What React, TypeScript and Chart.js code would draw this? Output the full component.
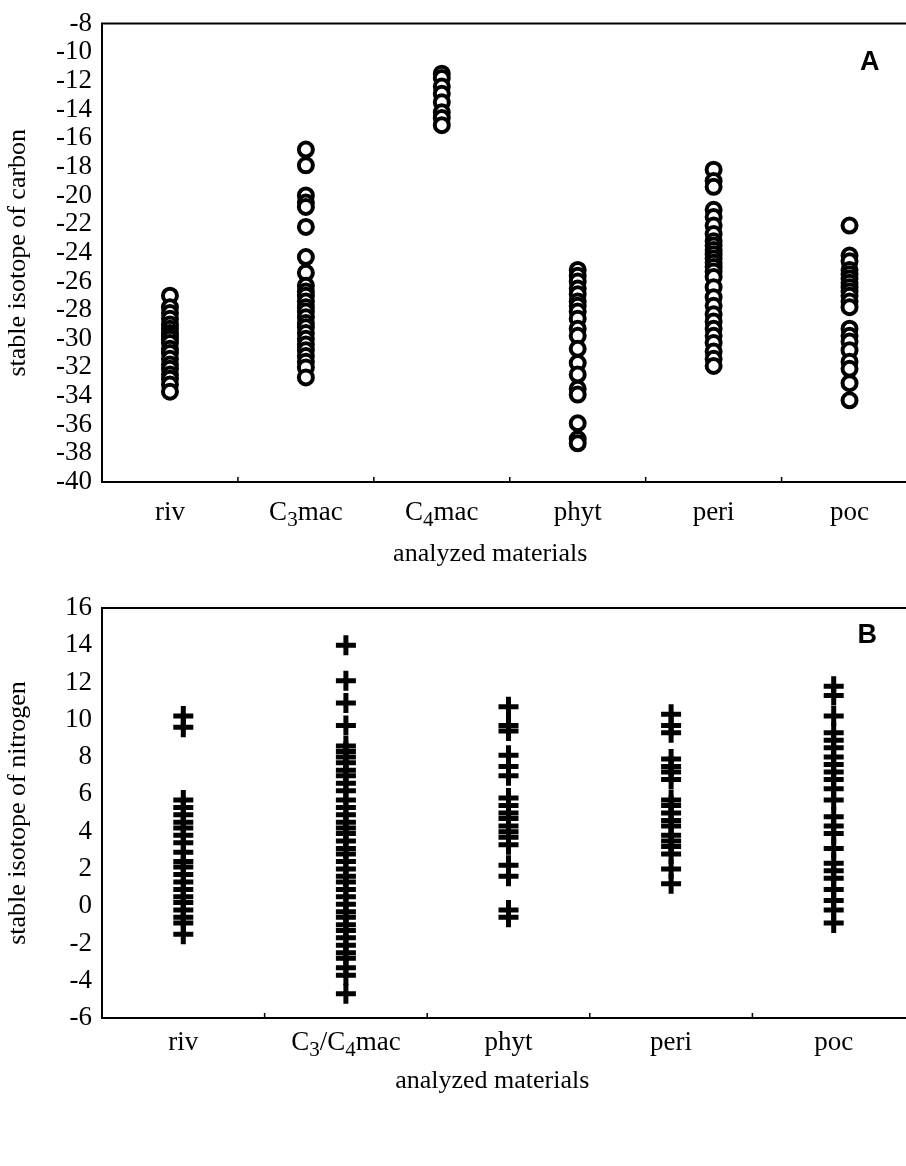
import React, { useEffect, useRef } from 'react';
import { Chart, registerables } from 'chart.js';

Chart.register(...registerables);

// ---------- data ----------
const categoriesA = ['riv', 'C3mac', 'C4mac', 'phyt', 'peri', 'poc'];
const rivC = [-27.0, -27.8, -28.2, -28.6, -29.0, -29.3, -29.6, -29.8, -30.0, -30.3, -30.7, -31.0, -31.4, -31.8, -32.1, -32.5, -32.8, -33.2, -33.7];
const c3macC = [-16.8, -17.9, -20.0, -20.5, -20.8, -22.2, -24.3, -25.4, -26.3, -26.7, -27.0, -27.4, -27.8, -28.1, -28.5, -28.9, -29.2, -29.6, -30.0, -30.4, -30.8, -31.2, -31.6, -32.0, -32.7];
const c4macC = [-11.5, -11.8, -12.4, -12.9, -13.5, -14.2, -14.6, -15.1];
const phytC = [-25.2, -25.6, -26.0, -26.5, -26.9, -27.4, -27.7, -28.1, -28.6, -29.3, -29.8, -30.7, -31.7, -32.5, -33.5, -33.9, -35.9, -37.0, -37.3];
const periC = [-18.2, -19.0, -19.4, -21.0, -21.5, -22.1, -22.7, -23.2, -23.5, -23.8, -24.1, -24.4, -24.7, -25.0, -25.3, -25.7, -26.4, -27.1, -27.7, -28.3, -28.8, -29.3, -29.8, -30.3, -30.9, -31.4, -31.9];
const pocC = [-22.1, -24.2, -24.6, -25.2, -25.5, -25.8, -26.1, -26.4, -26.7, -27.0, -27.4, -27.8, -29.3, -29.8, -30.2, -30.8, -31.6, -32.1, -33.1, -34.3];
const carbonSeries = [rivC, c3macC, c4macC, phytC, periC, pocC];
const yRangeA = [-40, -8];

const categoriesB = ['riv', 'C3/C4mac', 'phyt', 'peri', 'poc'];
const rivN = [10.2, 9.6, 5.7, 5.3, 4.9, 4.5, 4.2, 3.8, 3.4, 2.9, 2.4, 2.1, 1.7, 1.3, 0.9, 0.5, 0.2, -0.2, -0.6, -0.9, -1.5];
const macN = [14.0, 12.1, 10.9, 9.7, 8.6, 8.3, 8.0, 7.7, 7.3, 7.0, 6.6, 6.2, 5.7, 5.3, 4.9, 4.5, 4.2, 3.9, 3.5, 3.1, 2.8, 2.4, 2.0, 1.6, 1.3, 0.9, 0.5, 0.1, -0.3, -0.6, -1.0, -1.3, -1.7, -2.1, -2.5, -2.8, -3.3, -3.7, -4.7];
const phytN = [10.7, 9.7, 9.4, 8.1, 7.5, 7.0, 5.8, 5.4, 5.0, 4.7, 4.3, 4.0, 3.7, 3.3, 2.2, 1.6, -0.2, -0.6];
const periN = [10.3, 9.7, 9.3, 7.9, 7.5, 7.2, 6.8, 5.7, 5.4, 5.0, 4.6, 4.3, 3.8, 3.5, 3.2, 2.8, 2.0, 1.2];
const pocN = [11.8, 11.3, 10.2, 9.3, 8.9, 8.5, 8.0, 7.6, 7.2, 6.8, 6.3, 5.7, 4.8, 4.3, 3.9, 3.1, 2.3, 1.9, 1.5, 0.9, 0.3, -0.2, -0.9];
const nitrogenSeries = [rivN, macN, phytN, periN, pocN];
const yRangeB = [-6, 16];

const SERIF = "'Liberation Serif', 'Times New Roman', serif";
const SANS = "'Liberation Sans', Arial, sans-serif";

// draw a label where digits are rendered as subscripts
function drawRich(ctx: CanvasRenderingContext2D, text: string, cx: number, baseline: number, size: number) {
  const segs: { t: string; sub: boolean }[] = [];
  for (const ch of text) {
    const sub = /[0-9]/.test(ch);
    const last = segs[segs.length - 1];
    if (last && last.sub === sub) last.t += ch;
    else segs.push({ t: ch, sub });
  }
  const subSize = size * 0.78;
  let total = 0;
  const widths = segs.map((s) => {
    ctx.font = `${s.sub ? subSize : size}px ${SERIF}`;
    const w = ctx.measureText(s.t).width;
    total += w;
    return w;
  });
  let x = cx - total / 2;
  ctx.textAlign = 'left';
  ctx.textBaseline = 'alphabetic';
  segs.forEach((s, i) => {
    ctx.font = `${s.sub ? subSize : size}px ${SERIF}`;
    ctx.fillText(s.t, x, baseline + (s.sub ? size * 0.22 : 0));
    x += widths[i];
  });
}

const decorPlugin = {
  id: 'decor',
  afterDraw(chart: any, _args: any, opts: any) {
    const { ctx, chartArea: a, scales } = chart;
    const xs = scales.x;
    const labels: string[] = xs.getLabels();
    ctx.save();
    ctx.strokeStyle = '#000';
    ctx.lineWidth = 2;
    ctx.beginPath();
    ctx.moveTo(a.right + 20, a.top);
    ctx.lineTo(a.left, a.top);
    ctx.lineTo(a.left, a.bottom);
    ctx.lineTo(a.right + 20, a.bottom);
    ctx.stroke();
    ctx.lineWidth = 1.5;
    for (let i = 1; i < labels.length; i++) {
      const px = (xs.getPixelForValue(i - 1) + xs.getPixelForValue(i)) / 2;
      ctx.beginPath();
      ctx.moveTo(px, a.bottom);
      ctx.lineTo(px, a.bottom - 5);
      ctx.stroke();
    }
    ctx.fillStyle = '#000';
    labels.forEach((lab, i) => drawRich(ctx, lab, xs.getPixelForValue(i), a.bottom + opts.labelOffset, opts.labelSize));
    ctx.font = `${opts.titleSize}px ${SERIF}`;
    ctx.textAlign = 'center';
    ctx.textBaseline = 'alphabetic';
    ctx.fillText(opts.xTitle, a.left + (a.right - a.left) * opts.titleFrac, a.bottom + opts.titleOffset);
    ctx.font = `bold ${opts.letterSize}px ${SANS}`;
    ctx.textAlign = 'right';
    ctx.fillText(opts.letter, a.right - opts.letterRight, a.top + opts.letterTop);
    ctx.restore();
  },
};

function makeConfig(p: any) {
  const data: { x: string; y: number }[] = [];
  p.categories.forEach((c: string, i: number) => p.series[i].forEach((v: number) => data.push({ x: c, y: v })));
  return {
    type: 'scatter',
    data: {
      labels: p.categories,
      datasets: [
        {
          data,
          pointStyle: p.pointStyle,
          pointRadius: p.radius,
          pointHoverRadius: p.radius,
          borderWidth: p.borderWidth,
          borderColor: '#000',
          backgroundColor: p.pointStyle === 'circle' ? '#fff' : '#000',
        },
      ],
    },
    options: {
      responsive: false,
      animation: false,
      devicePixelRatio: 1,
      layout: { padding: { top: p.padTop, right: p.padRight, left: 0, bottom: 0 } },
      plugins: {
        legend: { display: false },
        tooltip: { enabled: false },
        decor: {
          labelOffset: p.labelOffset,
          labelSize: 27,
          titleSize: 26,
          titleOffset: p.titleOffset,
          titleFrac: p.titleFrac,
          xTitle: 'analyzed materials',
          letter: p.letter,
          letterSize: 27,
          letterRight: p.letterRight,
          letterTop: p.letterTop,
        },
      },
      scales: {
        x: {
          type: 'category',
          labels: p.categories,
          offset: true,
          grid: { display: false },
          border: { display: false },
          ticks: { display: false },
          afterFit: (s: any) => {
            s.height = p.xHeight;
          },
        },
        y: {
          type: 'linear',
          min: p.yRange[0],
          max: p.yRange[1],
          grid: { display: false, drawTicks: false },
          border: { display: false },
          ticks: {
            stepSize: 2,
            autoSkip: false,
            color: '#000',
            padding: 10,
            font: { family: SERIF, size: 27, lineHeight: 1 },
          },
          title: {
            display: true,
            text: p.yTitle,
            color: '#000',
            padding: { top: 3, bottom: 0 },
            font: { family: SERIF, size: 26, lineHeight: 1.2 },
          },
          afterFit: (s: any) => {
            s.width = 102;
          },
        },
      },
    },
    plugins: [decorPlugin],
  };
}

const panelA = {
  categories: categoriesA,
  series: carbonSeries,
  yRange: yRangeA,
  yTitle: 'stable isotope of carbon',
  pointStyle: 'circle',
  radius: 7,
  borderWidth: 4,
  padTop: 14,
  padRight: 12.5,
  xHeight: 88,
  labelOffset: 38,
  titleOffset: 79,
  titleFrac: 0.476,
  letter: 'A',
  letterRight: 38,
  letterTop: 46,
};

const panelB = {
  categories: categoriesB,
  series: nitrogenSeries,
  yRange: yRangeB,
  yTitle: 'stable isotope of nitrogen',
  pointStyle: 'cross',
  radius: 10,
  borderWidth: 5,
  padTop: 38,
  padRight: 8.5,
  xHeight: 148,
  labelOffset: 32,
  titleOffset: 70,
  titleFrac: 0.48,
  letter: 'B',
  letterRight: 38,
  letterTop: 35,
};

export default function App() {
  const refA = useRef<HTMLCanvasElement>(null);
  const refB = useRef<HTMLCanvasElement>(null);
  useEffect(() => {
    const a = new Chart(refA.current as any, makeConfig(panelA) as any);
    const b = new Chart(refB.current as any, makeConfig(panelB) as any);
    return () => {
      a.destroy();
      b.destroy();
    };
  }, []);
  return (
    <div style={{ position: 'fixed', left: 0, top: 0, width: 906, height: 1166, overflow: 'hidden', background: '#fff' }}>
      <canvas ref={refA} width={930} height={570} style={{ position: 'absolute', left: 0, top: 0, width: 930, height: 570 }} />
      <canvas ref={refB} width={930} height={596} style={{ position: 'absolute', left: 0, top: 570, width: 930, height: 596 }} />
    </div>
  );
}
